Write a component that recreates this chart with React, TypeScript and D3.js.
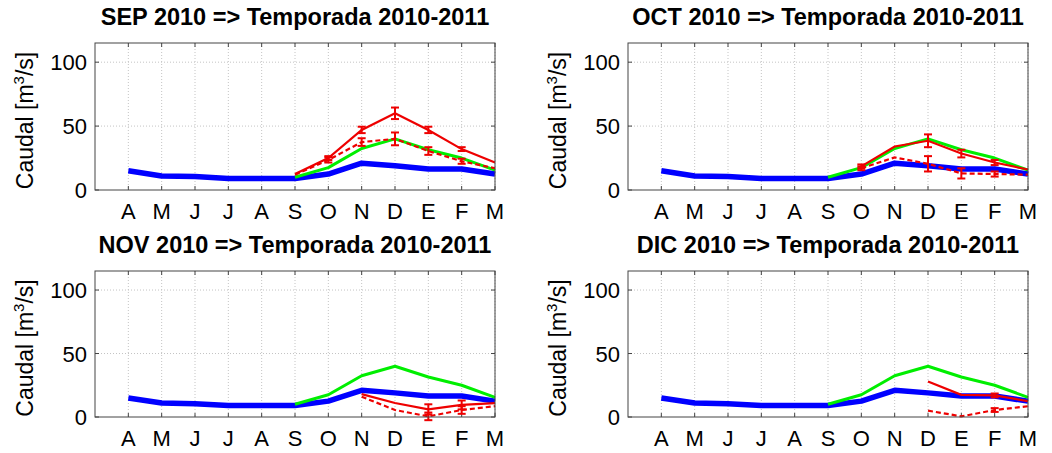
import React, { useRef, useEffect } from 'react';
import * as d3 from 'd3';

// meses de abril a marzo
const months = ['A', 'M', 'J', 'J', 'A', 'S', 'O', 'N', 'D', 'E', 'F', 'M'];
const yTicks = [0, 50, 100];

const titles = [
    'SEP 2010 => Temporada 2010-2011',
    'OCT 2010 => Temporada 2010-2011',
    'NOV 2010 => Temporada 2010-2011',
    'DIC 2010 => Temporada 2010-2011',
];

// caudal medio historico (azul), abril..marzo
const historico = [15, 11, 10.5, 9, 9, 9, 12.5, 21, 19, 16.5, 16.5, 12.5];

// caudal observado temporada (verde), desde septiembre
const observadoStart = 5;
const observado = [10, 17.5, 32.5, 40, 31.5, 25, 15.5];

// pronosticos (rojo): indice de inicio de cada panel
const pronoStart = [5, 6, 7, 8];

const pronoSolid = [
    [12.5, 25, 47, 60, 47, 32, 21.5],
    [18.5, 34, 38.5, 28.5, 21.5, 16],
    [18, 11, 6, 9.5, 11],
    [28, 17.5, 17, 12.5],
];
const pronoSolidErr = [
    [0, 1.5, 2.5, 4.5, 2.5, 1.5, 0],
    [1.5, 0, 5, 3, 2, 0],
    [0, 0, 4, 3.5, 0],
    [0, 0, 1.5, 0],
];

const pronoDashed = [
    [12, 23.5, 37.5, 40, 30.5, 22.5, 17],
    [17, 25.5, 20.5, 13, 12.5, 12],
    [16, 5.5, 0.5, 5.5, 8.5],
    [5, 0.5, 5.5, 8.5],
];
const pronoDashedErr = [
    [0, 2, 3, 5, 3, 2, 0],
    [1.5, 0, 6, 4, 2, 0],
    [0, 0, 3, 3, 0],
    [0, 0, 1.5, 0],
];

const App = () => {
    const chartRef = useRef(null);

    useEffect(() => {
        const width = 1052;
        const height = 453;
        const svg = d3.select(chartRef.current)
            .attr('width', width)
            .attr('height', height);
        svg.selectAll('*').remove();

        const font = 'Arial, "Liberation Sans", sans-serif';
        const panels = [
            { x0: 95, x1: 495, y0: 43, y1: 190 },
            { x0: 628, x1: 1028, y0: 43, y1: 190 },
            { x0: 95, x1: 495, y0: 271, y1: 417 },
            { x0: 628, x1: 1028, y0: 271, y1: 417 },
        ];

        panels.forEach((p, pi) => {
            const x = d3.scaleLinear().domain([0, 12]).range([p.x0, p.x1]);
            const y = d3.scaleLinear().domain([0, 115]).range([p.y1, p.y0]);
            const g = svg.append('g');

            // grid
            g.selectAll('.vgrid')
                .data(months)
                .enter().append('line')
                .attr('x1', (d, i) => x(i + 1)).attr('x2', (d, i) => x(i + 1))
                .attr('y1', p.y0).attr('y2', p.y1)
                .attr('stroke', '#c4c4c4').attr('stroke-dasharray', '1,2');
            g.selectAll('.hgrid')
                .data(yTicks.slice(1))
                .enter().append('line')
                .attr('x1', p.x0).attr('x2', p.x1)
                .attr('y1', d => y(d)).attr('y2', d => y(d))
                .attr('stroke', '#c4c4c4').attr('stroke-dasharray', '1,2');

            // ticks hacia adentro
            months.forEach((m, i) => {
                g.append('line').attr('x1', x(i + 1)).attr('x2', x(i + 1))
                    .attr('y1', p.y1).attr('y2', p.y1 - 4).attr('stroke', '#444');
                g.append('line').attr('x1', x(i + 1)).attr('x2', x(i + 1))
                    .attr('y1', p.y0).attr('y2', p.y0 + 4).attr('stroke', '#444');
            });
            yTicks.forEach(t => {
                g.append('line').attr('x1', p.x0).attr('x2', p.x0 + 4)
                    .attr('y1', y(t)).attr('y2', y(t)).attr('stroke', '#444');
                g.append('line').attr('x1', p.x1).attr('x2', p.x1 - 4)
                    .attr('y1', y(t)).attr('y2', y(t)).attr('stroke', '#444');
            });

            // lineas
            const line = d3.line<number>()
                .x((d, i) => x(i + 1))
                .y(d => y(d));
            const lineFrom = (start: number) => d3.line<number>()
                .x((d, i) => x(start + i + 1))
                .y(d => y(d));

            g.append('path').datum(historico)
                .attr('d', line)
                .attr('fill', 'none').attr('stroke', '#0000ff')
                .attr('stroke-width', 5.5).attr('stroke-linejoin', 'round');

            g.append('path').datum(observado)
                .attr('d', lineFrom(observadoStart))
                .attr('fill', 'none').attr('stroke', '#00ee00')
                .attr('stroke-width', 3).attr('stroke-linejoin', 'round');

            const drawProno = (vals: number[], errs: number[], dashed: boolean) => {
                const s = pronoStart[pi];
                g.append('path').datum(vals)
                    .attr('d', lineFrom(s))
                    .attr('fill', 'none').attr('stroke', '#ee0000')
                    .attr('stroke-width', 2.2)
                    .attr('stroke-dasharray', dashed ? '5,3' : null);
                vals.forEach((v, i) => {
                    const e = errs[i];
                    if (!e) return;
                    const cx = x(s + i + 1);
                    g.append('line').attr('x1', cx).attr('x2', cx)
                        .attr('y1', y(v - e)).attr('y2', y(v + e))
                        .attr('stroke', '#ee0000').attr('stroke-width', 2);
                    [v - e, v + e].forEach(yy => {
                        g.append('line').attr('x1', cx - 4).attr('x2', cx + 4)
                            .attr('y1', y(yy)).attr('y2', y(yy))
                            .attr('stroke', '#ee0000').attr('stroke-width', 2);
                    });
                });
            };
            drawProno(pronoDashed[pi], pronoDashedErr[pi], true);
            drawProno(pronoSolid[pi], pronoSolidErr[pi], false);

            // marco
            g.append('rect')
                .attr('x', p.x0).attr('y', p.y0)
                .attr('width', p.x1 - p.x0).attr('height', p.y1 - p.y0)
                .attr('fill', 'none').attr('stroke', '#444').attr('stroke-width', 1);

            // etiquetas
            g.selectAll('.xlab')
                .data(months)
                .enter().append('text')
                .attr('x', (d, i) => x(i + 1)).attr('y', p.y1 + 29)
                .attr('text-anchor', 'middle')
                .attr('font-family', font).attr('font-size', 22)
                .text(d => d);
            g.selectAll('.ylab')
                .data(yTicks)
                .enter().append('text')
                .attr('x', p.x0 - 8).attr('y', d => y(d) + 8)
                .attr('text-anchor', 'end')
                .attr('font-family', font).attr('font-size', 22)
                .text(d => d);

            g.append('text')
                .attr('x', (p.x0 + p.x1) / 2).attr('y', p.y0 - 18)
                .attr('text-anchor', 'middle')
                .attr('font-family', font).attr('font-size', 23.5).attr('font-weight', 'bold')
                .text(titles[pi]);

            const yl = g.append('text')
                .attr('transform', `translate(${p.x0 - 62},${(p.y0 + p.y1) / 2 + 4}) rotate(-90)`)
                .attr('text-anchor', 'middle')
                .attr('font-family', font).attr('font-size', 23);
            yl.append('tspan').text('Caudal [m');
            yl.append('tspan').attr('font-size', 15).attr('dy', -9).text('3');
            yl.append('tspan').attr('dy', 9).text('/s]');
        });
    }, []);

    return (
        <svg ref={chartRef} style={{ position: 'absolute', left: 0, top: 0, background: '#fff' }}></svg>
    );
};

export default App;
